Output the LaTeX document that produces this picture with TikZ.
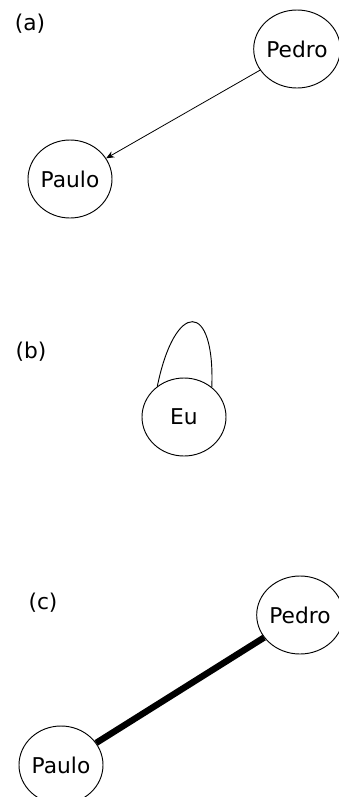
\documentclass[tikz,border=0pt]{standalone}
\usepackage{fontspec}
\setmainfont{DejaVu Sans}
\usetikzlibrary{arrows.meta,shapes.geometric}

\begin{document}
\begin{tikzpicture}[x=0.75pt,y=-0.75pt,>={Stealth[length=6pt,width=5pt]},
    line cap=round,line join=round,
    person/.style={ellipse,draw,line width=.7pt,inner sep=0pt,
      minimum width=63pt,minimum height=58.5pt,font=\fontsize{16.3}{19}\selectfont},
    tag/.style={font=\fontsize{16.3}{19}\selectfont}]
    \useasboundingbox (0,0) rectangle (339,797);

    % (a) a directed edge between two people.
    \node[tag] (taga) at (30,24) {(a)};
    \node[person] (pedroa) at (297,49) {Pedro};
    \node[person] (pauloa) at (70,179) {Paulo};
    \draw[->,line width=.6pt] (pedroa) -- (pauloa);

    % (b) a single person with a loop.
    \node[tag] (tagb) at (31,352) {(b)};
    \node[person] (eu) at (184,417) {Eu};
    \draw[line width=.7pt] (eu.131) .. controls (175,300) and
      (215,300) .. (eu.47);

    % (c) a heavy undirected edge.
    \node[tag] (tagc) at (43,603) {(c)};
    \node[person] (pedroc) at (300,615) {Pedro};
    \node[person] (pauloc) at (61,765) {Paulo};
    \draw[line width=4.8pt,line cap=butt] (pedroc) -- (pauloc);
  \end{tikzpicture}
\end{document}
